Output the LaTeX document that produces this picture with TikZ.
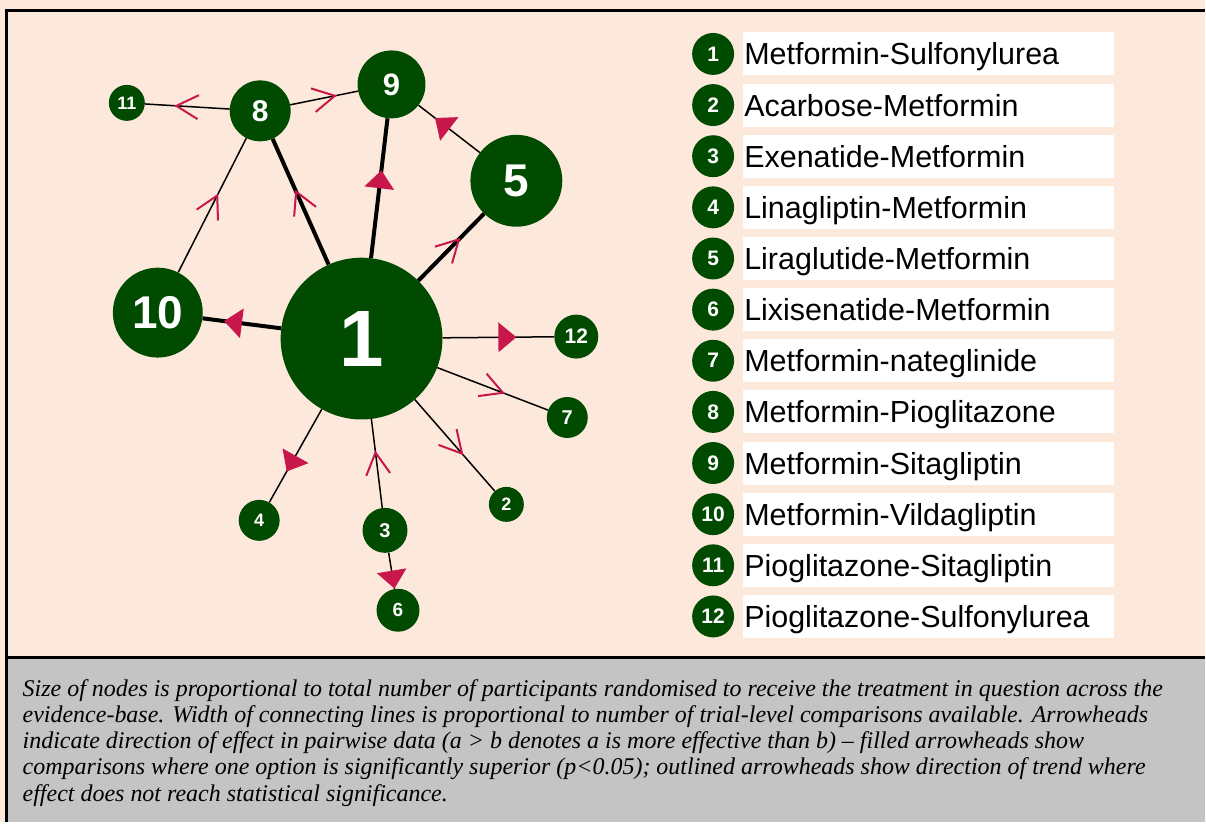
\documentclass[tikz,border=0pt]{standalone}
\usepackage{fontspec}
\setmainfont{Liberation Serif}
\setsansfont{Liberation Sans}
\usetikzlibrary{decorations.markings}
\definecolor{peach}{HTML}{FDE9DB}
\definecolor{ngreen}{HTML}{004B00}
\definecolor{crim}{HTML}{C8174B}
\definecolor{panelgray}{HTML}{C4C4C4}
\tikzset{
  netnode/.style={circle, fill=ngreen, text=white, inner sep=0pt, font=\sffamily\bfseries},
  thinedge/.style={draw=black, line width=1.5pt},
  thickedge/.style={draw=black, line width=4pt},
  sigarrow/.style={postaction={decorate, decoration={markings,
      mark=at position 0.5 with {\fill[crim] (0pt,-15pt) -- (18pt,0pt) -- (0pt,15pt) -- cycle;}}}},
  trendarrow/.style={postaction={decorate, decoration={markings,
      mark=at position 0.5 with {\draw[crim, line width=2pt] (-11pt,-12pt) -- (11pt,0pt) -- (-11pt,12pt);}}}},
  legcircle/.style={circle, fill=ngreen, text=white, inner sep=0pt, minimum size=42pt,
      font=\sffamily\bfseries\fontsize{21}{21}\selectfont},
  legbox/.style={anchor=west, fill=white, inner xsep=1pt, inner ysep=6.5pt,
      text height=26pt, text depth=4pt, text width=369pt, align=left,
      font=\sffamily\fontsize{30.5}{30.5}\selectfont},
  captext/.style={anchor=base west, inner sep=0pt, font=\itshape\fontsize{24}{26}\selectfont},
  framerule/.style={line width=3pt, draw=black}
}
\begin{document}
\begin{tikzpicture}[x=1pt, y=-1pt]
  % background and frame
  \fill[peach] (0,0) rectangle (1206,823);
  \fill[panelgray] (7,658) rectangle (1206,823);
  \draw[framerule] (1206,11) -- (7,11) -- (7,823);
  \draw[framerule] (7,658) -- (1206,658);
  \useasboundingbox (0,0) rectangle (1206,823);

  % network nodes
  \node[netnode, minimum size=162pt, font=\sffamily\bfseries\fontsize{80}{80}\selectfont] (n1) at (362,339) {1};
  \node[netnode, minimum size=35pt, font=\sffamily\bfseries\fontsize{18}{18}\selectfont] (n2) at (507,505) {2};
  \node[netnode, minimum size=45pt, font=\sffamily\bfseries\fontsize{20}{20}\selectfont] (n3) at (385.5,531) {3};
  \node[netnode, minimum size=41pt, font=\sffamily\bfseries\fontsize{18}{18}\selectfont] (n4) at (259.5,521) {4};
  \node[netnode, minimum size=92pt, font=\sffamily\bfseries\fontsize{46}{46}\selectfont] (n5) at (517,181) {5};
  \node[netnode, minimum size=43pt, font=\sffamily\bfseries\fontsize{19}{19}\selectfont] (n6) at (398.5,611) {6};
  \node[netnode, minimum size=41pt, font=\sffamily\bfseries\fontsize{20}{20}\selectfont] (n7) at (568,418) {7};
  \node[netnode, minimum size=61pt, font=\sffamily\bfseries\fontsize{30}{30}\selectfont] (n8) at (260.5,111) {8};
  \node[netnode, minimum size=68pt, font=\sffamily\bfseries\fontsize{31}{31}\selectfont] (n9) at (392,84.5) {9};
  \node[netnode, minimum size=90pt, font=\sffamily\bfseries\fontsize{46}{46}\selectfont] (n10) at (158,313) {10};
  \node[netnode, minimum size=36pt, font=\sffamily\bfseries\fontsize{18}{18}\selectfont] (n11) at (127,103) {11};
  \node[netnode, minimum size=44pt, font=\sffamily\bfseries\fontsize{21}{21}\selectfont] (n12) at (577,337) {12};

  % thick edges
  \draw[thickedge, sigarrow] (n1) -- (n10);
  \draw[thickedge, sigarrow] (n1) -- (n9);
  \draw[thickedge, trendarrow] (n1) -- (n8);
  \draw[thickedge, trendarrow] (n1) -- (n5);
  % thin edges
  \draw[thinedge, sigarrow] (n1) -- (n12);
  \draw[thinedge, trendarrow] (n1) -- (n7);
  \draw[thinedge, trendarrow] (n1) -- (n2);
  \draw[thinedge, sigarrow] (n1) -- (n4);
  \draw[thinedge, trendarrow] (n3) -- (n1);
  \draw[thinedge, sigarrow] (n3) -- (n6);
  \draw[thinedge, trendarrow] (n8) -- (n11);
  \draw[thinedge, trendarrow] (n8) -- (n9);
  \draw[thinedge, trendarrow] (n10) -- (n8);
  \draw[thinedge, sigarrow] (n5) -- (n9);

  % legend
  \foreach \i/\name [evaluate=\i as \yy using {54+51.2*(\i-1)}] in {
      1/Metformin-Sulfonylurea, 2/Acarbose-Metformin, 3/Exenatide-Metformin,
      4/Linagliptin-Metformin, 5/Liraglutide-Metformin, 6/Lixisenatide-Metformin,
      7/Metformin-nateglinide, 8/Metformin-Pioglitazone, 9/Metformin-Sitagliptin,
      10/Metformin-Vildagliptin, 11/Pioglitazone-Sitagliptin, 12/Pioglitazone-Sulfonylurea} {
    \node[legcircle] (l\i) at (714,\yy) {\i};
    \node[legbox] (t\i) at (744,\yy) {\name};
  }

  % caption
  \node[captext] (c1) at (22.5,697) {Size of nodes is proportional to total number of participants randomised to receive the treatment in question across the};
  \node[captext] (c2) at (22.5,723.3) {evidence-base. Width of connecting lines is proportional to number of trial-level comparisons available. Arrowheads};
  \node[captext] (c3) at (22.5,749.6) {indicate direction of effect in pairwise data (a > b denotes a is more effective than b) -- filled arrowheads show};
  \node[captext] (c4) at (22.5,775.9) {comparisons where one option is significantly superior (p<0.05); outlined arrowheads show direction of trend where};
  \node[captext] (c5) at (22.5,802.2) {effect does not reach statistical significance.};
\end{tikzpicture}
\end{document}
